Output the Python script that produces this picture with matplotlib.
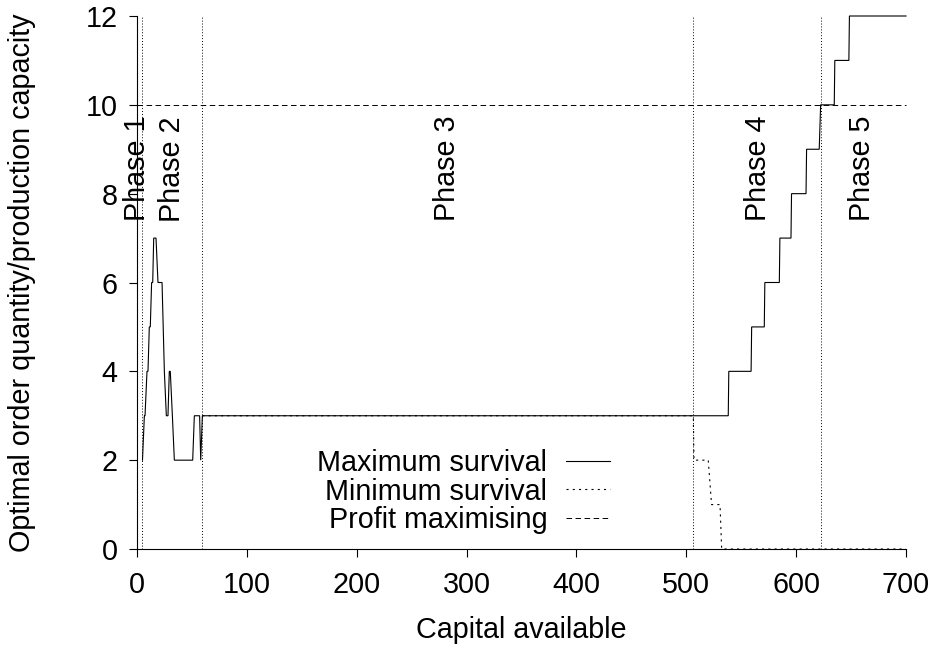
import matplotlib
matplotlib.use("Agg")
import matplotlib.pyplot as plt

FS = 20.7
plt.rcParams['font.family'] = ['Liberation Sans', 'DejaVu Sans']
plt.rcParams['font.size'] = FS
plt.rcParams['lines.scale_dashes'] = False

# ---- data ----
max_x = [5.0, 6.7, 7.3, 9.1, 10.0, 11.2, 12.1, 13.3, 14.3, 15.2,
         17.3, 19.1, 22.8, 24.9, 26.7, 28.2, 29.4, 30.3, 32.2, 34.0,
         50.7, 52.2, 57.0, 58.0, 59.5,
         538.2, 538.7, 559.0, 559.5, 571.0, 571.5, 584.7, 585.2, 595.3, 595.8,
         609.0, 609.5, 621.0, 622.3, 634.7, 635.2, 648.0, 648.5, 700.0]
max_y = [2, 3, 3, 4, 4, 5, 5, 6, 6, 7,
         7, 6, 6, 4, 3, 3, 4, 4, 3, 2,
         2, 3, 3, 2, 3,
         3, 4, 4, 5, 5, 6, 6, 7, 7, 8,
         8, 9, 9, 10, 10, 11, 11, 12, 12]

min_x = [59.5, 506.4, 507.0, 520.0, 523.0, 530.7, 532.2, 700.0]
min_y = [3, 3, 2, 2, 1, 1, 0, 0]

profit_x = [0, 700]
profit_y = [10, 10]

phase_bounds = [5.0, 59.5, 506.0, 622.5]
phase_labels = ["Phase 1", "Phase 2", "Phase 3", "Phase 4", "Phase 5"]
phase_label_x = [0.0, 31.6, 282.0, 565.0, 660.0]
phase_label_y = 9.75

xticks = [0, 100, 200, 300, 400, 500, 600, 700]
yticks = [0, 2, 4, 6, 8, 10, 12]

# ---- figure ----
fig = plt.figure(figsize=(9.38, 6.53), dpi=100)
ax = fig.add_axes([137/938, 1 - 549/653, (906-137)/938, (549-16)/653])

ax.plot(max_x, max_y, color='black', lw=0.8, solid_joinstyle='miter',
        label='Maximum survival', clip_on=False, zorder=3)
ax.plot(min_x, min_y, color='black', lw=0.8, dashes=(1.5, 3.0),
        label='Minimum survival', clip_on=False, zorder=3)
ax.plot(profit_x, profit_y, color='black', lw=0.7, dashes=(4.0, 2.5),
        label='Profit maximising', clip_on=False, zorder=2)

for xb in phase_bounds:
    ax.axvline(xb, color='black', lw=0.7, dashes=(0.7, 1.4), zorder=1)

for lab, lx in zip(phase_labels, phase_label_x):
    ax.text(lx, phase_label_y, lab, rotation=90, ha='center', va='top',
            fontsize=FS, zorder=4)

ax.set_xlim(0, 700)
ax.set_ylim(0, 12)
ax.set_xticks(xticks)
ax.set_yticks(yticks)

for s in ['top', 'right']:
    ax.spines[s].set_visible(False)
for s in ['left', 'bottom']:
    ax.spines[s].set_linewidth(0.8)

ax.tick_params(axis='both', direction='out', length=5.8, width=0.8, labelsize=FS)
ax.tick_params(axis='x', pad=10)
ax.tick_params(axis='y', pad=8.0)

ax.set_xlabel('Capital available', fontsize=FS)
ax.set_ylabel('Optimal order quantity/production capacity', fontsize=FS)
ax.xaxis.set_label_coords(0.5, -0.125)
ax.yaxis.set_label_coords(-0.131, 0.5)

leg = ax.legend(loc='lower right', bbox_to_anchor=(0.615, 0.028),
                frameon=False, markerfirst=False, borderpad=0, borderaxespad=0,
                handlelength=1.52, handletextpad=0.66, labelspacing=0.02,
                fontsize=FS)

fig.savefig('out.png', dpi=100)
